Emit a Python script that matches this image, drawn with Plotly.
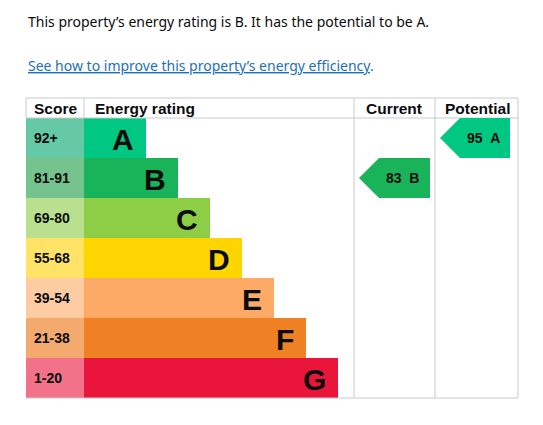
import plotly.graph_objects as go

bands = ["A", "B", "C", "D", "E", "F", "G"]
scores = ["92+", "81-91", "69-80", "55-68", "39-54", "21-38", "1-20"]
colors = ["#00c781", "#19b459", "#8dce46", "#ffd500", "#fcaa65", "#ef8023", "#e9153b"]
score_colors = ["#66c9a6", "#75c38f", "#b9e08f", "#ffe366", "#fdcca3", "#f4a96f", "#f2728a"]
current_value, current_band = 83, "B"
potential_value, potential_band = 95, "A"

fig = go.Figure()
shapes, ann = [], []
top, rowh = 118, 40
x0, sc = 26, 84
grey = "#c8cacc"
for i, b in enumerate(bands):
    y0 = top + i * rowh
    end = sc + 62 + 32 * i
    shapes.append(dict(type="rect", x0=x0, x1=sc, y0=y0, y1=y0 + rowh, fillcolor=score_colors[i], line_width=0, layer="below"))
    shapes.append(dict(type="rect", x0=sc, x1=end, y0=y0, y1=y0 + rowh, fillcolor=colors[i], line_width=0, layer="below"))
    ann.append(dict(x=32, y=y0 + rowh / 2, text=scores[i], showarrow=False, xanchor="left",
                    font=dict(family="Liberation Sans", size=14, color="#0b0c0c", weight="bold")))
    ann.append(dict(x=end - 10, y=y0 + rowh / 2 + 1, text=b, showarrow=False, xanchor="right",
                    font=dict(family="Liberation Sans", size=30, color="#0b0c0c", weight="bold")))

def arrow(xl, xr, band, value):
    i = bands.index(band)
    y0 = top + i * rowh
    y1 = y0 + rowh
    ym = y0 + rowh / 2
    shapes.append(dict(type="path", path=f"M {xl} {ym} L {xl+20} {y0} L {xr} {y0} L {xr} {y1} L {xl+20} {y1} Z",
                       fillcolor=colors[i], line_width=0))
    ann.append(dict(x=(xl + xr) / 2 + 8, y=ym, text=f"{value}&nbsp;&nbsp;{band}", showarrow=False,
                    font=dict(family="Liberation Sans", size=14, color="#0b0c0c", weight="bold")))

arrow(359, 430, current_band, current_value)
arrow(440, 510, potential_band, potential_value)

for x in [26, 84, 354, 435, 518]:
    shapes.append(dict(type="line", x0=x, x1=x, y0=98, y1=398 if x in (354, 435, 518) else 118,
                       line=dict(color=grey, width=1), layer="below"))
for y in [98, 118, 398]:
    shapes.append(dict(type="line", x0=26, x1=518, y0=y, y1=y, line=dict(color=grey, width=1), layer="below"))

hdr = dict(family="Liberation Sans", size=15.5, color="#0b0c0c", weight="bold")
ann += [
    dict(x=55, y=108, text="Score", font=hdr, showarrow=False),
    dict(x=93, y=108, text="Energy rating", font=hdr, showarrow=False, xanchor="left"),
    dict(x=394, y=108, text="Current", font=hdr, showarrow=False),
    dict(x=477, y=108, text="Potential", font=hdr, showarrow=False),
    dict(x=26, y=21, text="This property\u2019s energy rating is B. It has the potential to be A.", xanchor="left",
         showarrow=False, font=dict(family="Noto Sans", size=14, color="#0b0c0c")),
    dict(x=26, y=65, text="<span style='text-decoration:underline'>See how to improve this property\u2019s energy efficiency</span>.",
         xanchor="left", showarrow=False, font=dict(family="Noto Sans", size=14, color="#1d70b8")),
]

fig.update_layout(width=543, height=425, margin=dict(l=0, r=0, t=0, b=0),
                  plot_bgcolor="white", paper_bgcolor="white", shapes=shapes, annotations=ann,
                  xaxis=dict(range=[8, 551], visible=False, fixedrange=True),
                  yaxis=dict(range=[433, 8], visible=False, fixedrange=True), showlegend=False)
fig.write_html("out.html")
